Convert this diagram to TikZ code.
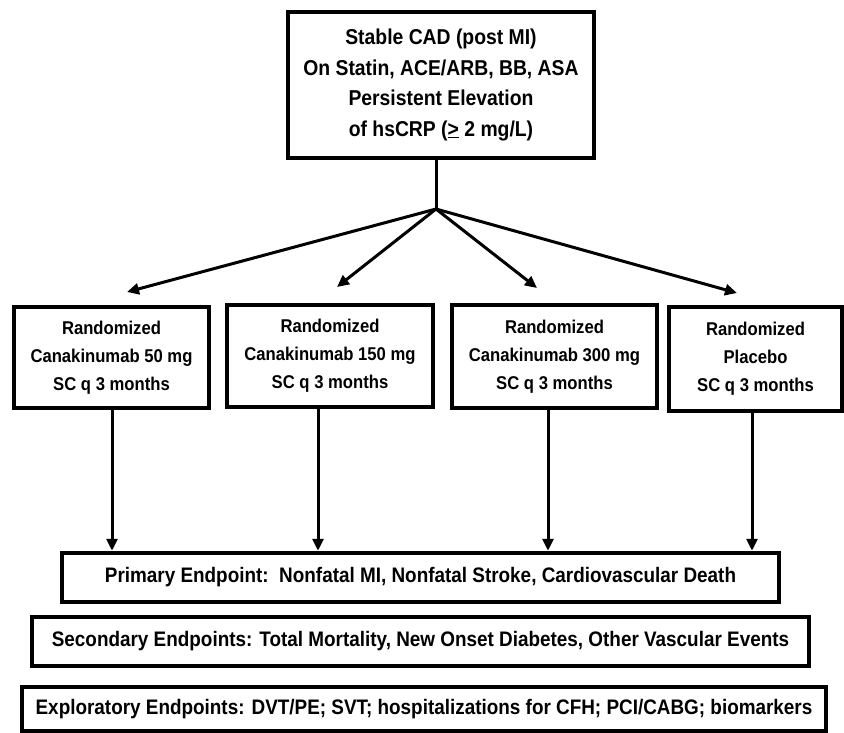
\documentclass[tikz,border=0pt]{standalone}
\usepackage{fontspec}
\setmainfont{Liberation Sans}[FakeStretch=0.9]
\usetikzlibrary{arrows.meta}
\begin{document}
\begin{tikzpicture}[x=1pt,y=-1pt,
  box/.style={draw=black,line width=4.5pt,fill=white,align=center,inner sep=0pt,
    font=\bfseries\fontsize{18.5}{28}\selectfont},
  epbox/.style={box,font=\bfseries\fontsize{21}{28}\selectfont},
  arr/.style={line width=3pt,-{Triangle[length=12pt,width=11pt]}},
  ln/.style={line width=3pt}]
\useasboundingbox (0,0) rectangle (844,732);
\fill[white] (0,0) rectangle (844,732);
\node[box,minimum width=306pt,minimum height=146pt,font=\bfseries\fontsize{21.5}{30.5}\selectfont] (top) at (441,85)
  {Stable CAD (post MI)\\On Statin, ACE/ARB, BB, ASA\\Persistent Elevation\\of hsCRP (\underline{>} 2 mg/L)};
\node[box,minimum width=195pt,minimum height=101pt] (b1) at (111.5,357.5) {Randomized\\Canakinumab 50 mg\\SC q 3 months};
\node[box,minimum width=206pt,minimum height=102pt] (b2) at (330,356) {Randomized\\Canakinumab 150 mg\\SC q 3 months};
\node[box,minimum width=205pt,minimum height=103pt] (b3) at (554.5,356.5) {Randomized\\Canakinumab 300 mg\\SC q 3 months};
\node[box,minimum width=173pt,minimum height=104pt] (b4) at (755.5,359) {Randomized\\Placebo\\SC q 3 months};
\node[epbox,minimum width=717pt,minimum height=49pt] (pe) at (420.5,577.5) {Primary Endpoint:\ \ Nonfatal MI, Nonfatal Stroke, Cardiovascular Death};
\node[epbox,minimum width=777pt,minimum height=49pt] (se) at (420.5,641.5) {Secondary Endpoints: Total Mortality, New Onset Diabetes, Other Vascular Events};
\node[epbox,minimum width=804pt,minimum height=44pt] (ee) at (424,709) {Exploratory Endpoints: DVT/PE; SVT; hospitalizations for CFH; PCI/CABG; biomarkers};
\coordinate (J) at (436,209);
\coordinate (a1) at (127,292);
\coordinate (a2) at (337,287);
\coordinate (a3) at (537,288);
\coordinate (a4) at (737,293);
\coordinate (x1) at (112,0);
\coordinate (x2) at (318,0);
\coordinate (x3) at (548,0);
\coordinate (x4) at (752,0);
\draw[ln] (top.south -| J) -- (J);
\draw[arr] (J) -- (a1);
\draw[arr] (J) -- (a2);
\draw[arr] (J) -- (a3);
\draw[arr] (J) -- (a4);
\draw[arr] (b1.south -| x1) -- (pe.north -| x1);
\draw[arr] (b2.south -| x2) -- (pe.north -| x2);
\draw[arr] (b3.south -| x3) -- (pe.north -| x3);
\draw[arr] (b4.south -| x4) -- (pe.north -| x4);
\end{tikzpicture}
\end{document}
